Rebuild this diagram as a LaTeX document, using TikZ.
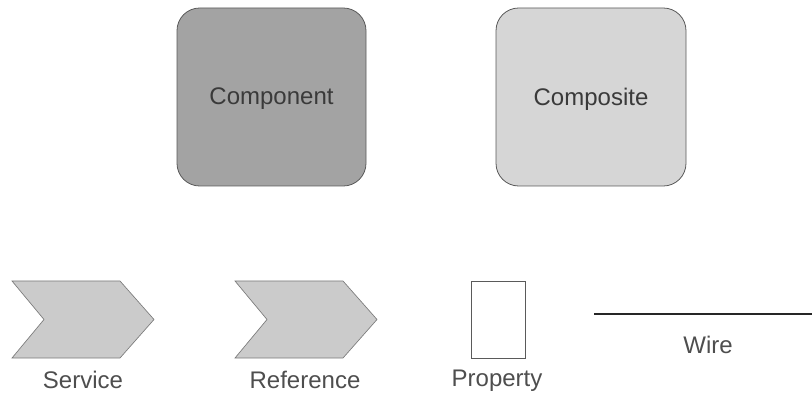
\documentclass[tikz,border=0pt]{standalone}
\usepackage{fontspec}
\setmainfont{Liberation Sans}
\definecolor{cmpfill}{HTML}{A3A3A3}
\definecolor{cpsfill}{HTML}{D6D6D6}
\definecolor{arrfill}{HTML}{CBCBCB}
\definecolor{edge}{HTML}{5A5A5A}
\definecolor{txt}{HTML}{3A3A3A}
\begin{document}
\begin{tikzpicture}[x=0.75pt,y=-0.75pt,
  box/.style={draw=edge,line width=0.6pt,rounded corners=17pt},
  chevron/.style={draw=edge!80,fill=arrfill,line width=0.5pt,line join=miter},
  lbl/.style={text=txt,font=\fontsize{18pt}{20pt}\selectfont,inner sep=0pt}]
\useasboundingbox (0,0) rectangle (812,398);
% component and composite
  \draw[box,fill=cmpfill] (177,8) rectangle (366,186);
  \draw[box,fill=cpsfill] (496,8) rectangle (686,186);
  \node[lbl] (component) at (271.5,99) {Component};
  \node[lbl] (composite) at (591,99) {Composite};
% service
  \draw[chevron] (12,281) -- (120,281) -- (154,319.5) -- (120,358) -- (12,358) -- (44,319.5) -- cycle;
  \node[lbl,text=txt!90] (service) at (83,380) {Service};
% reference
  \draw[chevron] (235,281) -- (343,281) -- (377,319.5) -- (343,358) -- (235,358) -- (267,319.5) -- cycle;
  \node[lbl,text=txt!90] (reference) at (305,380) {Reference};
% property
  \draw[edge,line width=0.6pt] (471,281) rectangle (525,358);
  \node[lbl,text=txt!90] (property) at (497,381) {Property};
% wire
  \coordinate (wa) at (594,314);
  \coordinate (wb) at (812,314);
  \draw[black!85,line width=2pt] (wa) -- (wb);
  \node[lbl,text=txt!90] (wire) at (708,345) {Wire};
\end{tikzpicture}
\end{document}
